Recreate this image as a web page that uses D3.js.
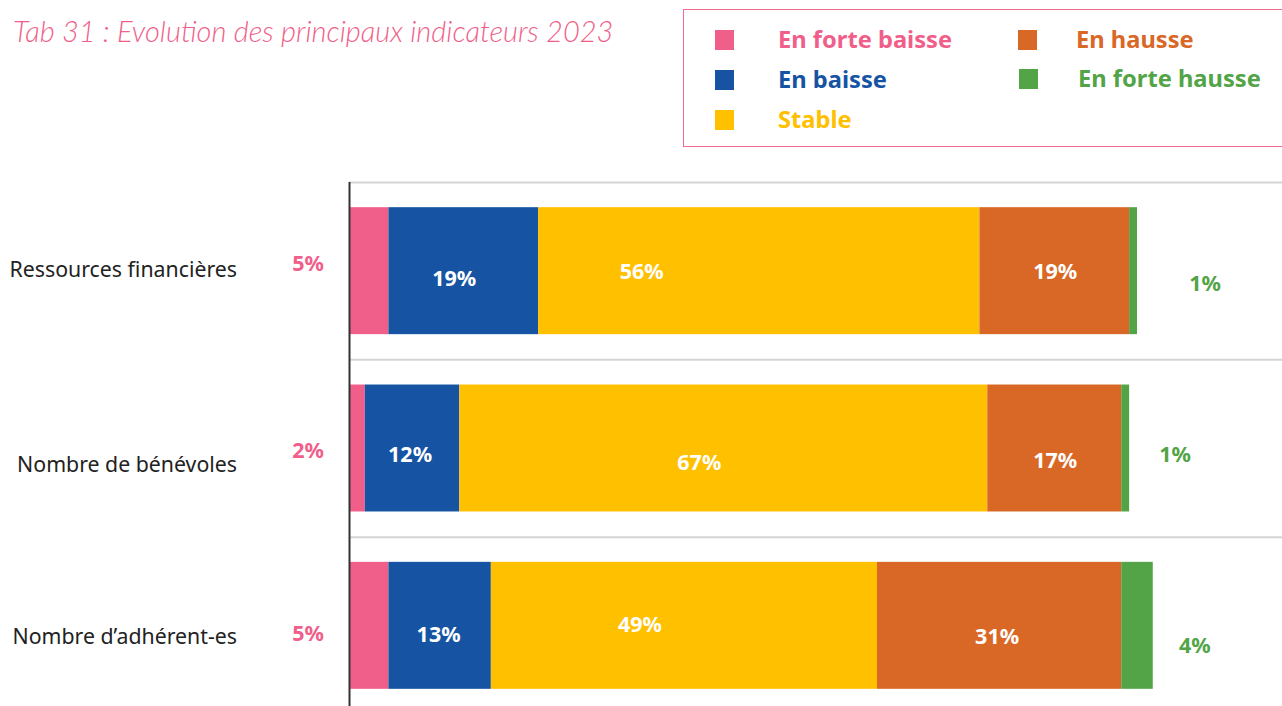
<!DOCTYPE html>
<html>
<head>
<meta charset="utf-8">
<script src="https://cdn.jsdelivr.net/npm/d3@7"></script>
<style>
  body { margin: 0; background: #fff; }
  svg { display: block; }
</style>
</head>
<body>
<svg id="drawing_region"></svg>
<script>
// data
const categories = ["Ressources financières", "Nombre de bénévoles", "Nombre d’adhérent-es"];
const seriesNames = ["En forte baisse", "En baisse", "Stable", "En hausse", "En forte hausse"];
const fortBaisse = [5, 2, 5];
const baisse = [19, 12, 13];
const stable = [56, 67, 49];
const hausse = [19, 17, 31];
const fortHausse = [1, 1, 4];

const colors = ["#F05F8A", "#1654A3", "#FFC000", "#D96826", "#52A447"];

// hand-placed label nudges from the original (dx, dy), per row then per series
const labelNudge = [
    [[0, -7], [-9, 8], [-117, 1], [1, 1], [16, 13]],
    [[0, 2], [-2, 6], [-24, 14], [1, 12], [-6, 6]],
    [[0, 8], [-1, 9], [-44, -1], [-2, 11], [-10, 20]]
];
// category label vertical nudges
const catNudge = [0, 17, 12];

const config = {
    parent: '#drawing_region',
    width: 1282,
    height: 706,
    margin: {top: 182, right: 0, bottom: -8, left: 349}
};

const values = [fortBaisse, baisse, stable, hausse, fortHausse];
const rows = categories.map((c, i) => {
    const r = {category: c};
    seriesNames.forEach((s, j) => { r[s] = values[j][i]; });
    return r;
});

const svg = d3.select(config.parent)
    .attr('width', config.width)
    .attr('height', config.height);

const font = "'Noto Sans', sans-serif";

// title
svg.append('text')
    .attr('x', 13)
    .attr('y', 42)
    .style('font-family', "Lato, sans-serif")
    .style('font-style', 'italic')
    .style('font-weight', 300)
    .style('font-size', '29px')
    .style('fill', '#F05F8A')
    .text("Tab 31 : Evolution des principaux indicateurs 2023");

// legend
const legend = svg.append('g');
legend.append('rect')
    .attr('x', 683.5).attr('y', 9.5)
    .attr('width', 610).attr('height', 137)
    .attr('fill', 'none')
    .attr('stroke', '#F06A90')
    .attr('stroke-width', 1);

const legendPos = [[715, 40], [715, 80], [715, 120], [1018, 40], [1019, 79]];
const legendTextX = [778, 778, 778, 1076, 1078];
seriesNames.forEach((s, i) => {
    legend.append('rect')
        .attr('x', legendPos[i][0])
        .attr('y', legendPos[i][1] - 10)
        .attr('width', 19).attr('height', 20)
        .attr('fill', colors[i]);
    legend.append('text')
        .attr('x', legendTextX[i])
        .attr('y', legendPos[i][1] + 8)
        .style('font-family', font)
        .style('font-weight', 700)
        .style('font-size', '23.7px')
        .style('fill', colors[i])
        .text(s);
});

// chart
const chart = svg.append('g')
    .attr('transform', `translate(${config.margin.left}, ${config.margin.top})`);

const inner_width = config.width - config.margin.left - config.margin.right;
const inner_height = config.height - config.margin.top - config.margin.bottom;

const xscale = d3.scaleLinear()
    .domain([0, 100])
    .range([0, 788]);

const yscale = d3.scaleBand()
    .domain(categories)
    .range([0, inner_height])
    .paddingInner(0.284)
    .paddingOuter(0.142);

const rowscale = d3.scaleBand()
    .domain(categories)
    .range([0, inner_height]);

// gridlines between rows
chart.selectAll('.grid')
    .data(categories)
    .join('line')
    .attr('class', 'grid')
    .attr('x1', 0).attr('x2', inner_width)
    .attr('y1', d => rowscale(d) + 0.5)
    .attr('y2', d => rowscale(d) + 0.5)
    .attr('stroke', '#d4d4d4')
    .attr('stroke-width', 2);

const stacked = d3.stack().keys(seriesNames)(rows);

const layers = chart.selectAll('.layer')
    .data(stacked)
    .join('g')
    .attr('class', 'layer')
    .attr('fill', (d, i) => colors[i]);

layers.selectAll('rect')
    .data(d => d)
    .join('rect')
    .attr('x', d => xscale(d[0]))
    .attr('y', d => yscale(d.data.category))
    .attr('width', d => xscale(d[1]) - xscale(d[0]))
    .attr('height', yscale.bandwidth());

// value labels
stacked.forEach((layer, si) => {
    layer.forEach((d, ri) => {
        const v = d[1] - d[0];
        let x;
        if (si === 0) x = -41;
        else if (si === 4) x = xscale(d[1]) + 52;
        else x = (xscale(d[0]) + xscale(d[1])) / 2;
        const nudge = labelNudge[ri][si];
        chart.append('text')
            .attr('x', x + nudge[0])
            .attr('y', yscale(d.data.category) + yscale.bandwidth() / 2 + nudge[1])
            .attr('dy', '0.35em')
            .attr('text-anchor', 'middle')
            .style('font-family', font)
            .style('font-weight', 700)
            .style('font-size', '21.5px')
            .style('fill', (si === 0 || si === 4) ? colors[si] : '#fff')
            .text(v + '%');
    });
});

// y axis
const yaxis = d3.axisLeft(yscale).tickSize(0).tickPadding(112);
const yaxis_group = chart.append('g').call(yaxis);
yaxis_group.select('.domain')
    .attr('d', `M0.5,0V${inner_height}`)
    .attr('stroke', '#333')
    .attr('stroke-width', 2);
yaxis_group.selectAll('text')
    .attr('y', (d, i) => catNudge[i])
    .style('font-family', font)
    .style('font-size', '21.3px')
    .style('fill', '#222');
</script>
</body>
</html>
